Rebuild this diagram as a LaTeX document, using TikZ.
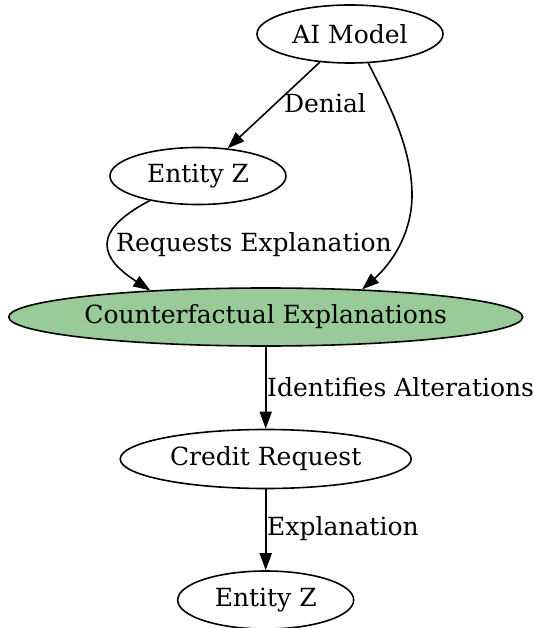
\documentclass[tikz,border=0pt]{standalone}
\usepackage{fontspec}
\setmainfont{DejaVu Serif}
\usetikzlibrary{shapes.geometric,arrows.meta}
\definecolor{cfgreen}{RGB}{152,203,152}
\begin{document}
\begin{tikzpicture}[x=1pt,y=-1pt,
  state/.style={ellipse,draw=black,line width=1.6pt,inner sep=0pt,font=\fontsize{25}{29}\selectfont},
  flow/.style={line width=1.6pt,-{Triangle[length=17pt,width=12pt]}},
  edgelabel/.style={font=\fontsize{25}{29}\selectfont,inner sep=0pt}]
\useasboundingbox (0,0) rectangle (534,628);

\node[state,minimum width=186pt,minimum height=58pt] (ai) at (350,34) {AI Model};
\node[state,minimum width=176pt,minimum height=57pt] (ez1) at (198,176) {Entity Z};
\node[state,fill=cfgreen,minimum width=514pt,minimum height=58pt] (ce) at (265.7,317) {Counterfactual Explanations};
\node[state,minimum width=291pt,minimum height=59pt] (cr) at (265.7,459) {Credit Request};
\node[state,minimum width=176pt,minimum height=58pt] (ez2) at (265.7,600) {Entity Z};

\draw[flow] (ai) -- (ez1);
\node[edgelabel] (l1) at (325,103) {Denial};

\draw[flow] (ai.-58) .. controls (390,105) and (412,150) .. (412,195)
  .. controls (412,235) and (390,265) .. (ce.16);

\draw[flow] (ez1.-153) .. controls (90,232) and (100,258) .. (ce.167);
\node[edgelabel] (l2) at (254,245) {Requests Explanation};

\draw[flow] (ce) -- (cr);
\node[edgelabel,anchor=west] (l3) at (267,387) {Identifies Alterations};

\draw[flow] (cr) -- (ez2);
\node[edgelabel,anchor=west] (l4) at (267,529) {Explanation};
\end{tikzpicture}
\end{document}
